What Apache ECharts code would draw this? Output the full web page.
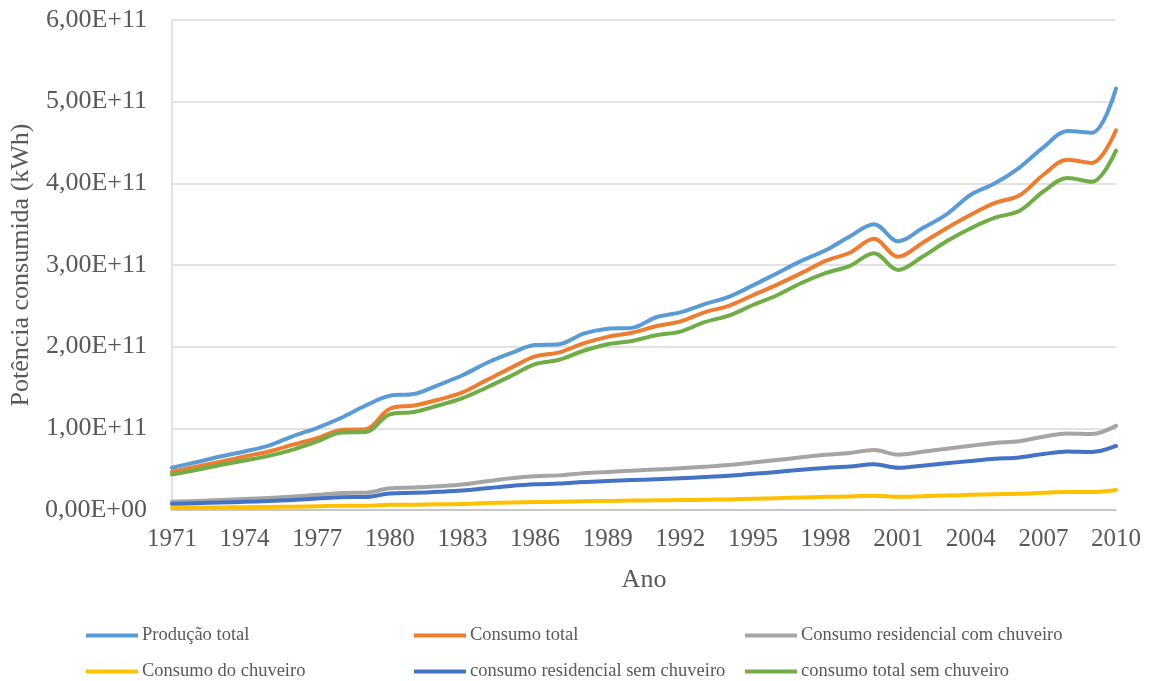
<!DOCTYPE html>
<html>
<head>
<meta charset="utf-8">
<script src="https://cdn.jsdelivr.net/npm/echarts@6/dist/echarts.min.js"></script>
<style>
  html, body { margin: 0; padding: 0; background: #fff; }
  #chart { width: 1155px; height: 681px; }
</style>
</head>
<body>
<div id="chart"></div>
<script>
// Anos 1971–2010
const years = [
  '1971','1972','1973','1974','1975','1976','1977','1978','1979','1980',
  '1981','1982','1983','1984','1985','1986','1987','1988','1989','1990',
  '1991','1992','1993','1994','1995','1996','1997','1998','1999','2000',
  '2001','2002','2003','2004','2005','2006','2007','2008','2009','2010'
];

// Potência consumida (kWh)
const producaoTotal = [
  51.8e9, 58.5e9, 65.5e9, 71.7e9, 78.8e9, 90.5e9, 100.7e9, 113e9, 128e9, 140e9,
  142e9, 153e9, 165e9, 180e9, 192e9, 202e9, 203e9, 216e9, 222e9, 223e9,
  236e9, 242e9, 252e9, 261e9, 275e9, 290e9, 305e9, 318e9, 335e9, 350e9,
  329e9, 345e9, 362e9, 386e9, 400e9, 419e9, 444e9, 464e9, 462e9, 516e9
];
const consumoTotal = [
  46.8e9, 53e9, 59e9, 65.5e9, 71.7e9, 80e9, 88e9, 98e9, 99e9, 124e9,
  128e9, 135e9, 144e9, 159e9, 174e9, 188e9, 193e9, 204e9, 212e9, 217e9,
  225e9, 231e9, 242e9, 250e9, 263e9, 276e9, 290e9, 305e9, 315e9, 332e9,
  310e9, 327e9, 345e9, 361.5e9, 376e9, 385e9, 410.5e9, 429e9, 425e9, 465e9
];
const residencialComChuveiro = [
  10.0e9, 11.1e9, 12.3e9, 13.4e9, 14.7e9, 16.4e9, 18.6e9, 20.8e9, 21.2e9, 26.5e9,
  27.5e9, 29.1e9, 31.2e9, 35.1e9, 38.8e9, 41.3e9, 42.4e9, 44.9e9, 46.6e9, 48.1e9,
  49.6e9, 51.0e9, 52.9e9, 55.0e9, 58.1e9, 61.1e9, 64.6e9, 67.6e9, 69.8e9, 73.4e9,
  67.8e9, 71.2e9, 75.0e9, 78.6e9, 82.1e9, 84.3e9, 89.8e9, 93.7e9, 93.0e9, 103.0e9
];
const consumoChuveiro = [
  2.5e9, 2.8e9, 3.1e9, 3.4e9, 3.7e9, 4.1e9, 4.6e9, 5.1e9, 5.2e9, 6.3e9,
  6.5e9, 6.9e9, 7.4e9, 8.5e9, 9.3e9, 9.8e9, 10.1e9, 10.7e9, 11.1e9, 11.5e9,
  11.9e9, 12.2e9, 12.6e9, 13.0e9, 13.8e9, 14.5e9, 15.3e9, 16.1e9, 16.6e9, 17.5e9,
  16.1e9, 16.9e9, 17.8e9, 18.6e9, 19.4e9, 19.9e9, 21.2e9, 22.1e9, 22.0e9, 24.6e9
];
const residencialSemChuveiro = [
  7.5e9, 8.3e9, 9.2e9, 10.0e9, 11.0e9, 12.3e9, 14.0e9, 15.7e9, 16.0e9, 20.2e9,
  21.0e9, 22.2e9, 23.8e9, 26.6e9, 29.5e9, 31.5e9, 32.3e9, 34.2e9, 35.5e9, 36.6e9,
  37.7e9, 38.8e9, 40.3e9, 42.0e9, 44.3e9, 46.6e9, 49.3e9, 51.5e9, 53.2e9, 55.9e9,
  51.7e9, 54.3e9, 57.2e9, 60.0e9, 62.7e9, 64.4e9, 68.6e9, 71.6e9, 71.0e9, 78.4e9
];
const totalSemChuveiro = [
  43.5e9, 49e9, 55e9, 60.5e9, 66.3e9, 74e9, 84e9, 95e9, 95.5e9, 117e9,
  120e9, 128e9, 137e9, 150e9, 164e9, 178.5e9, 184e9, 195e9, 203e9, 207e9,
  214e9, 218.5e9, 230e9, 238e9, 251e9, 263e9, 278e9, 290e9, 299e9, 314.5e9,
  294e9, 310e9, 329e9, 345e9, 358e9, 366e9, 390e9, 406.5e9, 402e9, 440e9
];

const seriesNames = [
  'Produção total',
  'Consumo total',
  'Consumo residencial com chuveiro',
  'Consumo do chuveiro',
  'consumo residencial sem chuveiro',
  'consumo total sem chuveiro'
];
const seriesData = [
  producaoTotal, consumoTotal, residencialComChuveiro,
  consumoChuveiro, residencialSemChuveiro, totalSemChuveiro
];
const colors = ['#5B9BD5', '#ED7D31', '#A5A5A5', '#FFC000', '#4472C4', '#70AD47'];

const FONT = '"Liberation Serif", "Times New Roman", serif';
const TEXT = '#595959';

// Scientific notation with a decimal comma, e.g. 6,00E+11
function sci(v) {
  if (v === 0) return '0,00E+00';
  const e = Math.floor(Math.log10(Math.abs(v)));
  const m = v / Math.pow(10, e);
  const es = (e < 0 ? '-' : '+') + String(Math.abs(e)).padStart(2, '0');
  return m.toFixed(2).replace('.', ',') + 'E' + es;
}

// Legend laid out as a 3 x 2 grid
const legendCols = [86, 414, 745];
const legendRows = [626, 662];
const legends = seriesNames.map((name, i) => ({
  data: [name],
  left: legendCols[i % 3],
  top: legendRows[Math.floor(i / 3)],
  orient: 'horizontal',
  itemWidth: 52,
  itemHeight: 18,
  itemGap: 0,
  icon: 'path://M0,7 L52,7 L52,11 L0,11 Z',
  selectedMode: false,
  textStyle: { fontFamily: FONT, fontSize: 18.5, color: TEXT, padding: [0, 0, 0, -1] },
  padding: 0
}));

const chart = echarts.init(document.getElementById('chart'), null, { renderer: 'canvas' });
chart.setOption({
  animation: false,
  backgroundColor: '#fff',
  color: colors,
  legend: legends,
  grid: { left: 172, right: 39, top: 20, bottom: 171, containLabel: false },
  xAxis: {
    type: 'category',
    data: years,
    boundaryGap: false,
    name: 'Ano',
    nameLocation: 'middle',
    nameGap: 57,
    nameTextStyle: { fontFamily: FONT, fontSize: 26, color: TEXT },
    axisLine: { show: true, lineStyle: { color: '#BFBFBF', width: 1.5 } },
    axisTick: { show: false },
    axisLabel: {
      interval: 2,
      margin: 17,
      fontFamily: FONT, fontSize: 25, color: TEXT
    },
    splitLine: { show: false }
  },
  yAxis: {
    type: 'value',
    min: 0,
    max: 6e11,
    interval: 1e11,
    name: 'Potência consumida (kWh)',
    nameLocation: 'middle',
    nameGap: 136,
    nameRotate: 90,
    nameTextStyle: { fontFamily: FONT, fontSize: 26, color: TEXT },
    axisLine: { show: true, lineStyle: { color: '#D9D9D9', width: 1.5 } },
    axisTick: { show: false },
    axisLabel: {
      margin: 25,
      fontFamily: FONT, fontSize: 26, color: TEXT,
      formatter: sci
    },
    splitLine: { show: true, lineStyle: { color: '#D9D9D9', width: 1.5 } }
  },
  series: seriesNames.map((name, i) => ({
    name: name,
    type: 'line',
    data: seriesData[i],
    smooth: 0.35,
    showSymbol: false,
    symbol: 'none',
    lineStyle: { width: 4, color: colors[i], cap: 'round', join: 'round' },
    itemStyle: { color: colors[i] }
  }))
});
</script>
</body>
</html>
